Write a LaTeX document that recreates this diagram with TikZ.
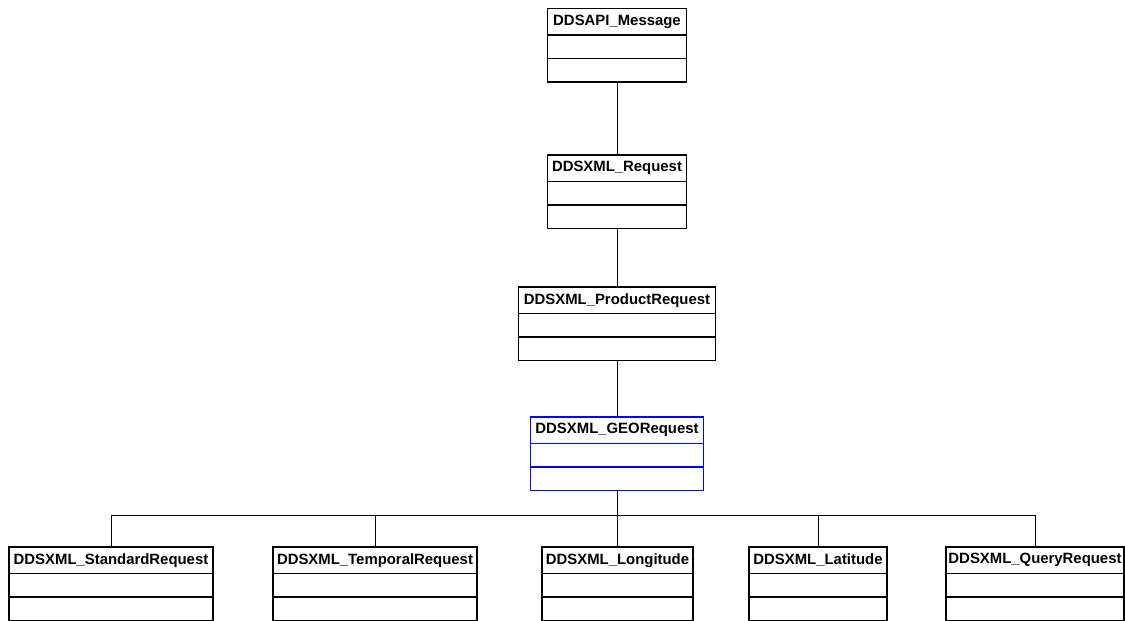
\documentclass[tikz,border=0pt]{standalone}
\usepackage{fontspec}
\setmainfont{Liberation Sans}
\usetikzlibrary{positioning}

\tikzset{
    clshead/.style={draw, line width=1.3pt, outer sep=0pt, inner sep=0pt, minimum height=26.5pt,
        font=\fontsize{14.9}{17}\selectfont\bfseries},
    clspart/.style={draw, line width=1.3pt, outer sep=0pt, inner sep=0pt, minimum height=23.5pt},
    link/.style={draw, line width=0.9pt},
}

% class box: [colour]{name}{top centre}{width}{title}
\newcommand{\umlclass}[5][black]{
    \node[clshead, draw=#1, minimum width=#4pt, anchor=north] (#2) at (#3) {#5};
    \node[clspart, draw=#1, minimum width=#4pt, below=0pt of #2] (#2-a) {};
    \node[clspart, draw=#1, minimum width=#4pt, below=0pt of #2-a] (#2-b) {};
}

\begin{document}
\begin{tikzpicture}[x=1pt, y=-1pt]
    \useasboundingbox (0,0) rectangle (1125,621);

    \umlclass{msg}{617,8.5}{139}{DDSAPI\_Message}
    \umlclass{req}{617,155}{139}{DDSXML\_Request}
    \umlclass{prod}{617,287}{197}{DDSXML\_ProductRequest}
    \umlclass[blue]{geo}{617,417}{173}{DDSXML\_GEORequest}

    \draw[link] (msg-b.south) -- (req.north);
    \draw[link] (req-b.south) -- (prod.north);
    \draw[link] (prod-b.south) -- (geo.north);
    \draw[link] (geo-b.south) -- ++(0,25) coordinate (bus);

    \foreach \nm/\x/\w/\title in {std/111/204/StandardRequest, tmp/375/204/TemporalRequest,
        lon/617.5/151/Longitude, lat/818/138/Latitude, qry/1035/178/QueryRequest} {
        \umlclass{\nm}{\x,547}{\w}{DDSXML\_\title}
        \draw[link] (bus) -| (\nm.north);
    }
\end{tikzpicture}
\end{document}
